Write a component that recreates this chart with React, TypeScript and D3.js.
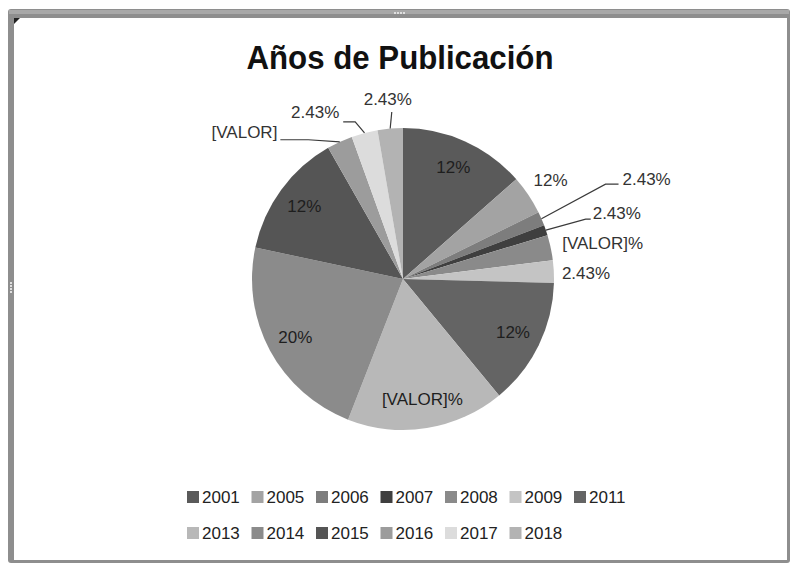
import React from "react";
import * as d3 from "d3";

// ---- data ----
const years = ["2001", "2005", "2006", "2007", "2008", "2009", "2011", "2013", "2014", "2015", "2016", "2017", "2018"];
const shares = [13.5, 4.2, 1.5, 1.1, 2.7, 2.4, 13.6, 16.9, 22.4, 13.4, 2.75, 2.8, 2.7];
const labelTexts = ["12%", "12%", "2.43%", "2.43%", "[VALOR]%", "2.43%", "12%", "[VALOR]%", "20%", "12%", "[VALOR]", "2.43%", "2.43%"];
const sliceColors = ["#5a5a5a", "#a3a3a3", "#7d7d7d", "#3f3f3f", "#8a8a8a", "#c4c4c4", "#646464", "#b8b8b8", "#8b8b8b", "#555555", "#9c9c9c", "#dcdcdc", "#b3b3b3"];
const title = "Años de Publicación";

// ---- label placement (layout, not data) ----
type Place = { mode: "in" | "out"; k?: number; dA?: number; anchor?: string; leader?: { ex: number; ey: number; elbowDx: number } };
const placement: Place[] = [
  { mode: "in" },
  { mode: "out", k: 1.176, dA: 0, anchor: "middle" },
  { mode: "out", k: 1.597, dA: -0.9, anchor: "start", leader: { ex: -4, ey: 5, elbowDx: -13 } },
  { mode: "out", k: 1.33, dA: -0.3, anchor: "start", leader: { ex: -2, ey: 6, elbowDx: -5 } },
  { mode: "out", k: 1.08, dA: -0.5, anchor: "start" },
  { mode: "out", k: 1.053, dA: 1, anchor: "start" },
  { mode: "in" },
  { mode: "in" },
  { mode: "in" },
  { mode: "in" },
  { mode: "out", k: 1.277, dA: -15.9, anchor: "end", leader: { ex: 3, ey: 7, elbowDx: 28 } },
  { mode: "out", k: 1.244, dA: -13.1, anchor: "middle", leader: { ex: 28, ey: 9, elbowDx: 12 } },
  { mode: "out", k: 1.19, dA: 0, anchor: "middle", leader: { ex: 4, ey: 12, elbowDx: 0 } },
];

const W = 791;
const H = 565;
const cx = 403;
const cy = 279;
const R = 151;
const FONT = "'Liberation Sans', Arial, sans-serif";

export default function App() {
  const pie = d3.pie<number>().sort(null).value((d) => d);
  const arcs = pie(shares);
  const arcGen = d3.arc<d3.PieArcDatum<number>>().innerRadius(0).outerRadius(R);
  const inArc = d3.arc<d3.PieArcDatum<number>>().innerRadius(R * 0.81).outerRadius(R * 0.81);

  const polar = (theta: number, rho: number): [number, number] => [Math.sin(theta) * rho, -Math.cos(theta) * rho];

  const legendX0 = 187;
  const colW = 64.5;
  const perRow = 7;
  const rowY = [497, 533];

  return (
    <svg width={W} height={H} style={{ position: "absolute", left: 0, top: 0, background: "#ffffff" }}>
      {/* frame */}
      <rect x={8} y={9} width={782} height={554} rx={3} fill="#8e8e8e" />
      <rect x={9} y={10} width={780} height={4} fill="#a8a8a8" />
      <rect x={14} y={18} width={773} height={542} fill="#ffffff" />
      <path d="M14,18 L20,18 L14,24 Z" fill="#222" />
      <g fill="#e0e0e0">
        {d3.range(4).map((i) => (
          <rect key={"t" + i} x={394 + i * 3} y={12} width={2} height={2} />
        ))}
        {d3.range(4).map((i) => (
          <rect key={"l" + i} x={10} y={282 + i * 3} width={2} height={2} />
        ))}
      </g>

      {/* title */}
      <text
        x={400}
        y={69}
        textAnchor="middle"
        fontFamily={FONT}
        fontWeight="bold"
        fontSize={33}
        fill="#111"
        textLength={307}
        lengthAdjust="spacingAndGlyphs"
      >
        {title}
      </text>

      {/* pie */}
      <g transform={`translate(${cx},${cy})`}>
        {arcs.map((a, i) => (
          <path key={years[i]} d={arcGen(a) || ""} fill={sliceColors[i]} />
        ))}

        {arcs.map((a, i) => {
          const p = placement[i];
          const mid = (a.startAngle + a.endAngle) / 2;
          if (p.mode === "in") {
            const [x, y] = inArc.centroid(a);
            return (
              <text key={"l" + i} x={x} y={y} textAnchor="middle" dominantBaseline="central" fontFamily={FONT} fontSize={17} fill="#1e1e1e">
                {labelTexts[i]}
              </text>
            );
          }
          const theta = mid + ((p.dA || 0) * Math.PI) / 180;
          const [lx, ly] = polar(theta, R * (p.k || 1.1));
          let leader = null;
          if (p.leader) {
            const [ax, ay] = polar(mid, R);
            const ex = lx + p.leader.ex;
            const ey = ly + p.leader.ey;
            const pts: [number, number][] = [
              [ax, ay],
              [ex + p.leader.elbowDx, ey],
              [ex, ey],
            ];
            leader = <path d={d3.line()(pts) || ""} fill="none" stroke="#3a3a3a" strokeWidth={1.2} />;
          }
          return (
            <g key={"l" + i}>
              {leader}
              <text x={lx} y={ly} textAnchor={p.anchor} dominantBaseline="central" fontFamily={FONT} fontSize={17} fill="#333">
                {labelTexts[i]}
              </text>
            </g>
          );
        })}
      </g>

      {/* legend */}
      <g fontFamily={FONT} fontSize={17} fill="#222">
        {years.map((y, i) => {
          const row = Math.floor(i / perRow);
          const col = i % perRow;
          const x = legendX0 + col * colW;
          const yy = rowY[row];
          return (
            <g key={"lg" + y}>
              <rect x={x} y={yy - 6} width={12} height={12} fill={sliceColors[i]} />
              <text x={x + 15} y={yy} dominantBaseline="central">
                {y}
              </text>
            </g>
          );
        })}
      </g>
    </svg>
  );
}
